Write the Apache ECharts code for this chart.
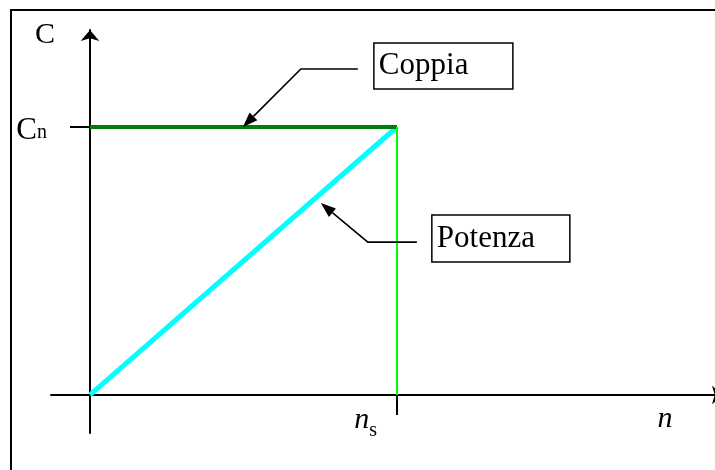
<!DOCTYPE html>
<html><head><meta charset="utf-8">
<script src="https://cdn.jsdelivr.net/npm/echarts@6/dist/echarts.min.js"></script>
<style>html,body{margin:0;padding:0;background:#fff}#c{width:715px;height:470px}</style>
</head><body><div id="c"></div>
<script>
// ---- data (normalised units: ns = 1, Cn = 1) ----
const coppiaData  = [[0, 1], [1, 1]];   // torque: constant Cn up to ns
const potenzaData = [[0, 0], [1, 1]];   // power: rises linearly up to ns
const limitData   = [[1, 0], [1, 1]];   // vertical limit at ns
const xTickValues = [1];
const xTickLabels = ['{n|n}{s|s}'];
const yTickValues = [1];
const yTickLabels = ['{c|C}{s|n}'];
const xAxisName = 'n';
const yAxisName = 'C';
const annotationTexts = ['Coppia', 'Potenza'];
const annotationTips  = [[0.498, 1], [0.752, 0.716]];

const serif = '"Liberation Serif","Times New Roman",serif';
const chart = echarts.init(document.getElementById('c'), null, {renderer: 'canvas'});

chart.setOption({
  animation: false,
  backgroundColor: '#fff',
  grid: {left: 51, top: 30, width: 672, height: 403, containLabel: false, outerBoundsMode: 'none'},
  xAxis: {
    type: 'value', min: -0.127, max: 2.062,
    splitLine: {show: false},
    axisLine: {show: true, onZero: true, symbol: ['none', 'arrow'], symbolSize: [14, 11],
      lineStyle: {color: '#000', width: 2}},
    axisTick: {show: true, customValues: xTickValues, length: 20, inside: false,
      lineStyle: {color: '#000', width: 2}},
    axisLabel: {show: true, customValues: xTickValues, margin: -22, align: 'right',
      padding: [0, 20, 0, 0],
      formatter: v => xTickLabels[xTickValues.indexOf(v)] || '',
      rich: {
        n: {fontFamily: serif, fontStyle: 'italic', fontSize: 30, lineHeight: 30, color: '#000', padding: [0, 0, 12, 0]},
        s: {fontFamily: serif, fontSize: 20, lineHeight: 20, color: '#000', verticalAlign: 'bottom'}
      }},
    name: xAxisName, nameLocation: 'end', nameGap: -58,
    nameTextStyle: {fontFamily: serif, fontStyle: 'italic', fontSize: 30, lineHeight: 30, color: '#000',
      align: 'center', verticalAlign: 'top', padding: [9, 0, 0, 0]}
  },
  yAxis: {
    type: 'value', min: -0.142, max: 1.362,
    splitLine: {show: false},
    axisLine: {show: true, onZero: true, symbol: ['none', 'arrow'], symbolSize: [14, 11],
      lineStyle: {color: '#000', width: 2}},
    axisTick: {show: true, customValues: yTickValues, length: 20, inside: false,
      lineStyle: {color: '#000', width: 2}},
    axisLabel: {show: true, customValues: yTickValues, margin: 4,
      formatter: v => yTickLabels[yTickValues.indexOf(v)] || '',
      rich: {
        c: {fontFamily: serif, fontSize: 31, lineHeight: 31, color: '#000', padding: [7, 0, 0, 0]},
        s: {fontFamily: serif, fontSize: 20, lineHeight: 20, color: '#000', verticalAlign: 'bottom'}
      }},
    name: yAxisName, nameLocation: 'end', nameGap: -20,
    nameTextStyle: {fontFamily: serif, fontSize: 30, lineHeight: 30, color: '#000',
      align: 'right', verticalAlign: 'bottom', padding: [0, 35, 0, 0]}
  },
  series: [
    {type: 'line', name: 'Potenza', data: potenzaData, showSymbol: false, clip: false,
      lineStyle: {color: '#00FFFF', width: 5}, z: 3},
    {type: 'line', name: 'Coppia', data: coppiaData, showSymbol: false, clip: false,
      lineStyle: {color: '#008000', width: 4}, z: 4},
    {type: 'line', name: 'limit', data: limitData, showSymbol: false, clip: false,
      lineStyle: {color: '#00FF00', width: 2}, z: 5}
  ]
});

// ---- annotations (callout boxes with arrows) ----
const layouts = [
  {elbow: [58, -58], start: [115, -58], box: [131, -84, 139, 46], textX: 136, textY: -61},
  {elbow: [47, 39], start: [96, 39], box: [111, 12, 138, 47], textX: 116, textY: 36}
];
const g = [];
// frame
g.push({type: 'rect', shape: {x: 11, y: 10, width: 720, height: 480},
  style: {fill: 'none', stroke: '#000', lineWidth: 2}, silent: true, z: 10});
annotationTips.forEach((tip, i) => {
  const T = chart.convertToPixel({gridIndex: 0}, tip);
  const L = layouts[i];
  const E = [T[0] + L.elbow[0], T[1] + L.elbow[1]];
  const S = [T[0] + L.start[0], T[1] + L.start[1]];
  const dx = T[0] - E[0], dy = T[1] - E[1], len = Math.hypot(dx, dy);
  const ux = dx / len, uy = dy / len, nx = -uy, ny = ux;
  const al = 15, aw = 5.5;
  const B = [T[0] - ux * al, T[1] - uy * al];
  g.push({type: 'polyline', shape: {points: [S, E, B]},
    style: {stroke: '#000', lineWidth: 1.6, fill: 'none'}, silent: true, z: 10});
  g.push({type: 'polygon', shape: {points: [T, [B[0] + nx * aw, B[1] + ny * aw], [B[0] - nx * aw, B[1] - ny * aw]]},
    style: {fill: '#000'}, silent: true, z: 10});
  g.push({type: 'rect', shape: {x: T[0] + L.box[0], y: T[1] + L.box[1], width: L.box[2], height: L.box[3]},
    style: {fill: '#fff', stroke: '#000', lineWidth: 1.5}, silent: true, z: 10});
  g.push({type: 'text', x: T[0] + L.textX, y: T[1] + L.textY,
    style: {text: annotationTexts[i], fontFamily: serif, fontSize: 31, fill: '#000',
      textAlign: 'left', textVerticalAlign: 'middle'}, silent: true, z: 11});
});
chart.setOption({graphic: g});
</script>
</body></html>
